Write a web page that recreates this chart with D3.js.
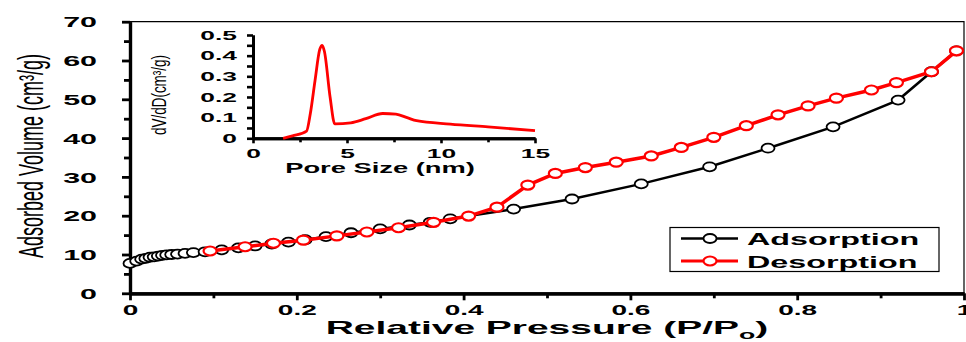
<!DOCTYPE html>
<html>
<head>
<meta charset="utf-8">
<script src="https://cdn.jsdelivr.net/npm/d3@7"></script>
<style>
body { margin: 0; background: #fff; }
svg { display: block; }
</style>
</head>
<body>
<svg id="chart"></svg>
<script>
// isotherm
var pressureAds = [0, 0.008, 0.014, 0.019, 0.024, 0.029, 0.034, 0.039, 0.044, 0.05, 0.057, 0.066, 0.076,
                   0.09, 0.11, 0.13, 0.15, 0.17, 0.19, 0.21, 0.235, 0.265, 0.30, 0.335, 0.36, 0.384,
                   0.46, 0.53, 0.613, 0.695, 0.765, 0.843, 0.921, 0.961, 0.991];
var volumeAds = [7.7, 8.3, 8.8, 9.0, 9.3, 9.4, 9.6, 9.8, 9.9, 10.0, 10.1, 10.3, 10.5,
                 10.7, 11.2, 11.7, 12.2, 12.7, 13.2, 13.8, 14.6, 15.6, 16.6, 17.6, 18.3, 19.2,
                 21.7, 24.3, 28.2, 32.6, 37.4, 42.9, 49.8, 57.1, 62.5];
var pressureDes = [0.096, 0.138, 0.172, 0.208, 0.248, 0.284, 0.322, 0.364, 0.406, 0.44, 0.477,
                   0.51, 0.546, 0.583, 0.625, 0.661, 0.70, 0.739, 0.777, 0.813, 0.847, 0.889,
                   0.919, 0.961, 0.991];
var volumeDes = [10.9, 12.0, 12.9, 13.7, 14.8, 15.8, 16.9, 18.3, 19.9, 22.2, 27.9,
                 30.9, 32.4, 33.8, 35.4, 37.6, 40.2, 43.2, 46.0, 48.3, 50.3, 52.4,
                 54.3, 57.1, 62.5];

// pore size distribution (inset)
var poreSize = [1.6, 2.1, 2.85, 3.05, 3.3, 3.55, 3.68, 3.8, 4.1, 4.35, 5.2, 6.0, 6.9, 7.6, 8.2, 8.7, 10.5, 12.5, 15];
var poreDist = [0, 0.012, 0.035, 0.12, 0.28, 0.43, 0.45, 0.42, 0.2, 0.07, 0.075, 0.095, 0.12, 0.117, 0.1, 0.085, 0.069, 0.055, 0.037];

var seriesNames = ["Adsorption", "Desorption"];
var xTicks = [0, 0.2, 0.4, 0.6, 0.8, 1];
var xMinor = [0.1, 0.3, 0.5, 0.7, 0.9];
var yTicks = [0, 10, 20, 30, 40, 50, 60, 70];
var yMinor = [5, 15, 25, 35, 45, 55, 65];
var insetXTicks = [0, 5, 10, 15];
var insetXMinor = [2.5, 7.5, 12.5];
var insetYTicks = [0, 0.1, 0.2, 0.3, 0.4, 0.5];
var insetYMinor = [0.05, 0.15, 0.25, 0.35, 0.45];

var width = 966, height = 342;
var font = "'Liberation Sans', Arial, sans-serif";

var svg = d3.select("#chart").attr("width", width).attr("height", height);

var x = d3.scaleLinear().domain([0, 1]).range([130, 964]);
var y = d3.scaleLinear().domain([0, 70]).range([293.3, 21.7]);

// top and right frame
svg.append("path")
    .attr("d", "M130,21.7H964V293.3")
    .attr("fill", "none")
    .attr("stroke", "#000")
    .attr("stroke-width", 1.2);

function styleAxis(g, w) {
    g.select(".domain").attr("stroke-width", w);
    g.selectAll(".tick line").attr("stroke-width", w - 0.4);
}

// main y axis
var yAxis = svg.append("g")
    .attr("transform", "translate(130,0)")
    .call(d3.axisLeft(y).tickValues(yTicks).tickSize(8).tickSizeOuter(0).tickFormat(d => d));
styleAxis(yAxis, 3.2);
yAxis.selectAll(".tick text")
    .attr("x", 0).attr("dy", "0.36em")
    .attr("font-family", font).attr("font-weight", "bold").attr("font-size", 14.5)
    .attr("transform", "translate(-33,0) scale(2.1,1)");
var yAxisMinor = svg.append("g")
    .attr("transform", "translate(130,0)")
    .call(d3.axisLeft(y).tickValues(yMinor).tickSize(6).tickSizeOuter(0).tickFormat(""));
styleAxis(yAxisMinor, 3.2);

// main x axis
var xAxis = svg.append("g")
    .attr("transform", "translate(0,293.3)")
    .call(d3.axisBottom(x).tickValues(xTicks).tickSize(7).tickSizeOuter(0).tickFormat(d => d));
styleAxis(xAxis, 3.2);
xAxis.selectAll(".tick text")
    .attr("y", 0).attr("dy", 0)
    .attr("font-family", font).attr("font-weight", "bold").attr("font-size", 14)
    .attr("transform", "translate(0,22) scale(2,1)");
var xAxisMinor = svg.append("g")
    .attr("transform", "translate(0,293.3)")
    .call(d3.axisBottom(x).tickValues(xMinor).tickSize(5).tickSizeOuter(0).tickFormat(""));
styleAxis(xAxisMinor, 3.2);

// axis titles
var xTitle = svg.append("text")
    .attr("transform", "translate(547,334) scale(2.05,1)")
    .attr("text-anchor", "middle")
    .attr("font-family", font).attr("font-weight", "bold").attr("font-size", 19);
xTitle.append("tspan").text("Relative Pressure (P/P");
xTitle.append("tspan").attr("font-size", 13).attr("dy", 5).text("o");
xTitle.append("tspan").attr("dy", -5).text(")");

svg.append("text")
    .attr("transform", "translate(43,156) scale(1.9,1) rotate(-90)")
    .attr("text-anchor", "middle")
    .attr("font-family", font).attr("font-size", 18)
    .text("Adsorbed Volume (cm\u00b3/g)");

// series
var line = d3.line().x(d => x(d[0])).y(d => y(d[1]));
var ads = d3.zip(pressureAds, volumeAds);
var des = d3.zip(pressureDes, volumeDes);

svg.append("path")
    .datum(ads)
    .attr("d", line)
    .attr("fill", "none")
    .attr("stroke", "#000")
    .attr("stroke-width", 2.5);

svg.selectAll(".ads")
    .data(ads)
    .enter()
    .append("ellipse")
    .attr("class", "ads")
    .attr("cx", d => x(d[0]))
    .attr("cy", d => y(d[1]))
    .attr("rx", 6.5).attr("ry", 4.5)
    .attr("fill", "#fff")
    .attr("stroke", "#000")
    .attr("stroke-width", 1.8);

svg.append("path")
    .datum(des)
    .attr("d", line)
    .attr("fill", "none")
    .attr("stroke", "#ff0000")
    .attr("stroke-width", 3.5);

svg.selectAll(".des")
    .data(des)
    .enter()
    .append("ellipse")
    .attr("class", "des")
    .attr("cx", d => x(d[0]))
    .attr("cy", d => y(d[1]))
    .attr("rx", 6.5).attr("ry", 4.5)
    .attr("fill", "#fff")
    .attr("stroke", "#ff0000")
    .attr("stroke-width", 2.2);

// legend
svg.append("rect")
    .attr("x", 670).attr("y", 227.5)
    .attr("width", 269).attr("height", 44)
    .attr("fill", "#fff")
    .attr("stroke", "#000")
    .attr("stroke-width", 1.2);

var legendColors = ["#000", "#ff0000"];
seriesNames.forEach(function(name, i) {
    var ly = 238.5 + i * 22.5;
    svg.append("line")
        .attr("x1", 681).attr("x2", 738)
        .attr("y1", ly).attr("y2", ly)
        .attr("stroke", legendColors[i])
        .attr("stroke-width", i == 0 ? 2.5 : 3);
    svg.append("ellipse")
        .attr("cx", 710).attr("cy", ly)
        .attr("rx", 6.5).attr("ry", 4.5)
        .attr("fill", "#fff")
        .attr("stroke", legendColors[i])
        .attr("stroke-width", i == 0 ? 1.8 : 2.2);
    svg.append("text")
        .attr("transform", "translate(747," + (ly + 6.5) + ") scale(1.9,1)")
        .attr("font-family", font).attr("font-weight", "bold").attr("font-size", 17)
        .text(name);
});

// inset: pore size distribution
var ix = d3.scaleLinear().domain([0, 15]).range([253, 535]);
var iy = d3.scaleLinear().domain([0, 0.5]).range([138.3, 35]);

var iyAxis = svg.append("g")
    .attr("transform", "translate(253,0)")
    .call(d3.axisLeft(iy).tickValues(insetYTicks).tickSize(6).tickSizeOuter(0).tickFormat(d => d));
styleAxis(iyAxis, 3);
iyAxis.selectAll(".tick text")
    .attr("x", 0).attr("dy", "0.36em")
    .attr("font-family", font).attr("font-weight", "bold").attr("font-size", 12)
    .attr("transform", "translate(-16,0) scale(2.2,1)");
var iyAxisMinor = svg.append("g")
    .attr("transform", "translate(253,0)")
    .call(d3.axisLeft(iy).tickValues(insetYMinor).tickSize(6).tickSizeOuter(0).tickFormat(""));
styleAxis(iyAxisMinor, 3);

var ixAxis = svg.append("g")
    .attr("transform", "translate(0,138.3)")
    .call(d3.axisBottom(ix).tickValues(insetXTicks).tickSize(5).tickSizeOuter(0).tickFormat(d => d));
styleAxis(ixAxis, 3);
ixAxis.selectAll(".tick text")
    .attr("y", 0).attr("dy", 0)
    .attr("font-family", font).attr("font-weight", "bold").attr("font-size", 12)
    .attr("transform", "translate(0,20) scale(2.2,1)");
var ixAxisMinor = svg.append("g")
    .attr("transform", "translate(0,138.3)")
    .call(d3.axisBottom(ix).tickValues(insetXMinor).tickSize(4).tickSizeOuter(0).tickFormat(""));
styleAxis(ixAxisMinor, 3);

svg.append("text")
    .attr("transform", "translate(380,173) scale(1.95,1)")
    .attr("text-anchor", "middle")
    .attr("font-family", font).attr("font-weight", "bold").attr("font-size", 14)
    .text("Pore Size (nm)");

svg.append("text")
    .attr("transform", "translate(166,95) scale(1.45,1) rotate(-90)")
    .attr("text-anchor", "middle")
    .attr("font-family", font).attr("font-size", 13.5)
    .text("dV/dD(cm\u00b3/g)");

var poreLine = d3.line()
    .x(d => ix(d[0]))
    .y(d => iy(d[1]))
    .curve(d3.curveMonotoneX);

svg.append("path")
    .datum(d3.zip(poreSize, poreDist))
    .attr("d", poreLine)
    .attr("fill", "none")
    .attr("stroke", "#ff0000")
    .attr("stroke-width", 2.8)
    .attr("stroke-linejoin", "round");
</script>
</body>
</html>
